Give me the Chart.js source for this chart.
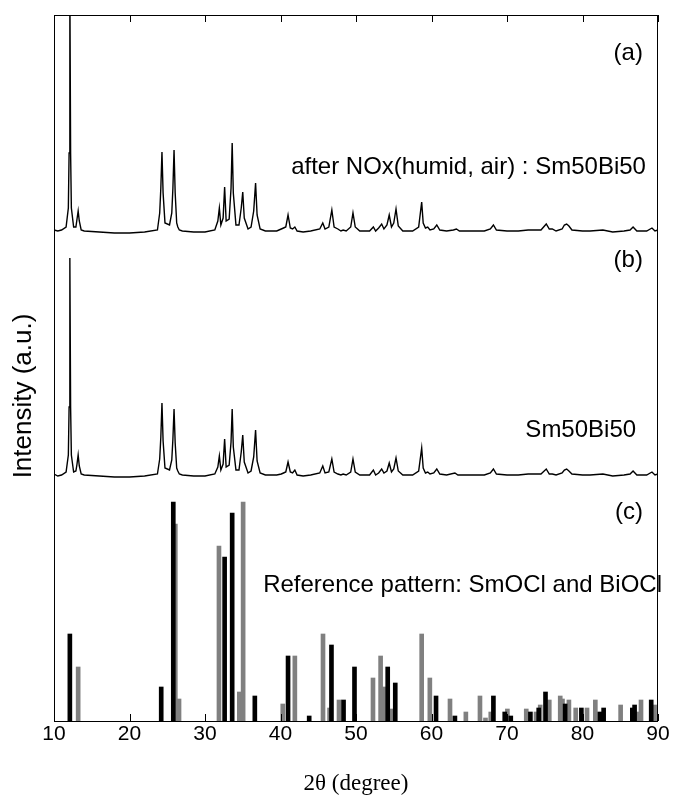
<!DOCTYPE html>
<html>
<head>
<meta charset="utf-8">
<script src="https://cdn.jsdelivr.net/npm/chart.js@4.4.0/dist/chart.umd.min.js"></script>
<style>
  body { margin: 0; background: #fff; }
  #wrap { width: 675px; height: 795px; }
</style>
</head>
<body>
<div id="wrap"><canvas id="xrd"></canvas></div>
<script>
// tick labels of the 2theta axis
var xTicks = [10, 20, 30, 40, 50, 60, 70, 80, 90];

// (a) after NOx (humid, air) : Sm50Bi50  -> [2theta, intensity above baseline]
var curveA = [
  [10,3],[10.5,2],[11,3],[11.6,6],[11.9,25],[12.0,80],[12.1,250],[12.2,80],[12.3,25],[12.6,6],
  [12.9,6],[13.05,14],[13.2,22],[13.35,12],[13.6,3],[14,2],[16,1],[18,0],[20,0],[22,1],
  [23.7,3],[24.0,20],[24.15,45],[24.3,81],[24.45,40],[24.7,10],[25.3,8],[25.6,20],[25.75,45],[25.9,83],
  [26.05,40],[26.25,10],[26.4,6],[26.6,3],[27,2],[28.5,1],[30,1],[31.3,3],[31.7,12],[31.9,25],
  [32.1,8],[32.4,15],[32.6,46],[32.8,12],[33.2,14],[33.45,45],[33.6,90],[33.75,40],[34.1,8],[34.5,8],
  [34.8,25],[35.0,41],[35.2,15],[35.7,4],[36.1,6],[36.45,22],[36.7,50],[36.9,18],[37.3,4],[38,2],
  [39.5,2],[40.1,4],[40.4,5],[40.7,6],[41.0,18],[41.3,5],[41.6,4],[41.9,6],[42.2,2],[43,1],
  [44,2],[45.2,4],[45.6,10],[45.9,4],[46.4,6],[46.8,23],[47.1,6],[47.6,4],[48.0,2],[48.3,3],
  [48.7,2],[49.3,6],[49.6,20],[49.9,6],[50.5,2],[51.2,2],[51.8,2],[52.3,6],[52.6,2],[53.0,5],
  [53.4,9],[53.7,4],[54.1,8],[54.4,18],[54.7,6],[55.0,10],[55.3,24],[55.6,7],[56.2,2],[57.5,2],
  [58.3,6],[58.7,31],[58.9,10],[59.2,5],[59.5,6],[59.8,3],[60.3,4],[60.7,8],[61.1,3],[62,2],
  [62.9,3],[63.3,4],[63.7,2],[65.5,2],[67,2],[67.8,4],[68.2,8],[68.6,3],[70,2],[71.5,2],
  [72.8,3],[74.5,3],[75.2,9],[75.6,4],[76.0,4],[76.5,2],[77.3,4],[77.6,8],[77.9,9],[78.2,7],
  [78.6,3],[80,2],[81,2],[82.7,3],[84,1],[85.5,2],[86.3,3],[86.7,6],[87.2,2],[88.5,2],
  [89.2,5],[89.6,2],[90,3]
];

// (b) Sm50Bi50
var curveB = [
  [10,3],[10.5,1],[11,2],[11.6,5],[11.9,22],[12.0,70],[12.1,219],[12.2,70],[12.3,22],[12.6,5],
  [12.9,6],[13.05,13],[13.2,22],[13.35,11],[13.6,3],[14,2],[16,1],[18,0],[20,0],[22,1],
  [23.7,3],[24.0,18],[24.15,40],[24.3,74],[24.45,36],[24.7,9],[25.3,7],[25.6,17],[25.75,38],[25.9,68],
  [26.05,34],[26.25,9],[26.4,6],[26.6,3],[27,2],[28.5,1],[30,1],[31.3,3],[31.7,10],[31.9,21],
  [32.1,7],[32.4,13],[32.6,38],[32.8,10],[33.2,12],[33.45,35],[33.6,68],[33.75,30],[34.1,7],[34.5,7],
  [34.8,25],[35.0,42],[35.2,15],[35.7,4],[36.1,6],[36.45,20],[36.7,47],[36.9,16],[37.3,4],[38,2],
  [39.5,2],[40.1,3],[40.4,4],[40.7,5],[41.0,15],[41.3,5],[41.6,4],[41.9,7],[42.2,2],[43,1],
  [44,2],[45.2,4],[45.6,11],[45.9,4],[46.4,5],[46.8,18],[47.1,5],[47.6,3],[48.0,2],[48.3,3],
  [48.7,2],[49.3,5],[49.6,18],[49.9,5],[50.5,2],[51.2,2],[51.8,2],[52.3,7],[52.6,2],[53.0,4],
  [53.4,8],[53.7,4],[54.1,6],[54.4,14],[54.7,5],[55.0,8],[55.3,19],[55.6,6],[56.2,2],[57.5,2],
  [58.3,6],[58.7,29],[58.9,9],[59.2,4],[59.5,5],[59.8,3],[60.3,4],[60.7,8],[61.1,3],[62,2],
  [63.1,4],[63.5,2],[65.5,2],[67,2],[67.8,4],[68.2,8],[68.6,3],[70,2],[71.5,2],[72.8,3],
  [74.5,3],[75.2,8],[75.6,3],[76.0,3],[76.5,2],[77.3,4],[77.6,7],[77.9,8],[78.2,6],[78.6,3],
  [80,2],[81,2],[82.7,3],[84,1],[85.5,2],[86.3,3],[86.7,6],[87.2,2],[88.5,2],[89.2,5],
  [89.6,2],[90,3]
];

// (c) reference pattern: SmOCl (black) and BiOCl (grey)
var smoclPos = [12.1, 24.2, 25.8, 32.6, 33.6, 36.6, 41.0, 43.8, 46.75, 48.35, 49.8, 54.2, 55.2, 60.6,
  63.1, 68.2, 69.7, 70.5, 73.1, 74.2, 75.1, 77.7, 79.85, 82.3, 82.8, 86.6, 86.9, 89.1];
var smoclInt = [87, 34, 219, 164, 208, 25, 65, 5, 76, 21, 54, 54, 38, 25,
  5, 25, 9, 5, 9, 13, 29, 17, 13, 9, 13, 13, 16, 21];
var bioclPos = [13.2, 26.07, 26.56, 31.85, 34.55, 35.05, 40.3, 41.9, 45.63, 46.5, 47.75, 52.25, 53.26, 53.66,
  54.7, 58.7, 59.78, 62.45, 64.55, 66.42, 67.15, 67.85, 70.05, 72.55, 73.85, 74.4, 75.6, 77.05,
  77.35, 78.2, 79.1, 80.6, 81.7, 85.05, 87.25, 87.75, 89.55];
var bioclInt = [54, 197, 22, 175, 29, 219, 17, 65, 87, 13, 21, 43, 65, 34,
  12, 87, 43, 22, 9, 25, 3, 9, 12, 12, 9, 16, 21, 25,
  22, 21, 13, 13, 21, 16, 9, 21, 16];

// vertical offsets of the stacked patterns
var offsetA = 488, offsetB = 244;

function shift(points, off) {
  return points.map(function (p) { return { x: p[0], y: p[1] + off }; });
}
function sticks(pos, val) {
  return pos.map(function (x, i) { return { x: x, y: val[i] }; });
}

// text written inside the plot, in data coordinates
var notes = [
  { text: '(a)', x: 88.0, y: 668, align: 'right' },
  { text: 'after NOx(humid, air) : Sm50Bi50', x: 88.4, y: 554, align: 'right' },
  { text: '(b)', x: 88.0, y: 461, align: 'right' },
  { text: 'Sm50Bi50', x: 87.1, y: 291, align: 'right' },
  { text: '(c)', x: 88.0, y: 209, align: 'right' },
  { text: 'Reference pattern: SmOCl and BiOCl', x: 37.7, y: 136, align: 'left' }
];
var sans = '"Liberation Sans", Arial, sans-serif';

var framePlugin = {
  id: 'frame',
  afterDatasetsDraw: function (chart) {
    var ctx = chart.ctx, a = chart.chartArea, xs = chart.scales.x;
    ctx.save();
    ctx.strokeStyle = '#000';
    ctx.lineWidth = 1;
    ctx.strokeRect(a.left + 0.5, a.top + 0.5, a.right - a.left - 1, a.bottom - a.top);
    // inward ticks top and bottom
    xTicks.forEach(function (v) {
      var px = Math.round(xs.getPixelForValue(v)) + 0.5;
      ctx.beginPath();
      ctx.moveTo(px, a.top); ctx.lineTo(px, a.top + 7);
      ctx.moveTo(px, a.bottom); ctx.lineTo(px, a.bottom - 7);
      ctx.stroke();
    });
    // notes
    ctx.fillStyle = '#000';
    ctx.font = '24px ' + sans;
    ctx.textBaseline = 'middle';
    notes.forEach(function (n) {
      ctx.textAlign = n.align;
      ctx.fillText(n.text, xs.getPixelForValue(n.x), chart.scales.y.getPixelForValue(n.y));
    });
    // y axis title
    ctx.font = '26px ' + sans;
    ctx.translate(24, 396);
    ctx.rotate(-Math.PI / 2);
    ctx.textAlign = 'center';
    ctx.fillText('Intensity (a.u.)', 0, 0);
    ctx.restore();
  }
};

new Chart(document.getElementById('xrd'), {
  type: 'bar',
  data: {
    datasets: [
      { type: 'line', label: 'after NOx', data: shift(curveA, offsetA), borderColor: '#000',
        borderWidth: 1.4, pointRadius: 0, tension: 0, fill: false },
      { type: 'line', label: 'Sm50Bi50', data: shift(curveB, offsetB), borderColor: '#000',
        borderWidth: 1.4, pointRadius: 0, tension: 0, fill: false },
      { label: 'SmOCl', data: sticks(smoclPos, smoclInt), backgroundColor: '#000',
        barThickness: 4, grouped: false },
      { label: 'BiOCl', data: sticks(bioclPos, bioclInt), backgroundColor: '#808080',
        barThickness: 4, grouped: false }
    ]
  },
  options: {
    responsive: true,
    maintainAspectRatio: false,
    animation: false,
    layout: { padding: { top: 15, right: 17 } },
    plugins: { legend: { display: false }, tooltip: { enabled: false } },
    scales: {
      x: {
        type: 'linear', min: 10, max: 90, offset: false,
        grid: { display: false, drawTicks: false }, border: { display: false },
        afterBuildTicks: function (s) { s.ticks = xTicks.map(function (v) { return { value: v }; }); },
        afterFit: function (s) { s.height = 74; },
        ticks: { color: '#000', padding: 1, maxRotation: 0, font: { family: sans, size: 21 } },
        title: { display: true, text: '2θ (degree)', color: '#000', padding: 0,
          font: { family: '"Liberation Serif", "Times New Roman", serif', size: 23, lineHeight: 1 } }
      },
      y: {
        min: 0, max: 706,
        grid: { display: false, drawTicks: false }, border: { display: false },
        ticks: { display: false },
        afterFit: function (s) { s.width = 54; }
      }
    }
  },
  plugins: [framePlugin]
});
</script>
</body>
</html>
